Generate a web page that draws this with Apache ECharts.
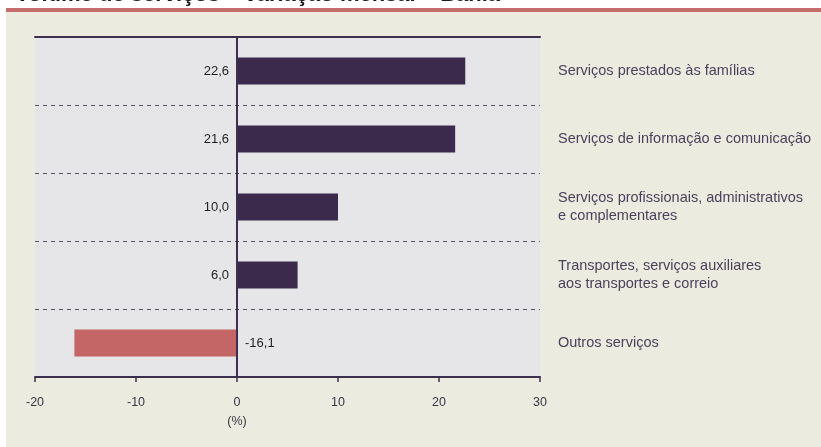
<!DOCTYPE html>
<html>
<head>
<meta charset="utf-8">
<script src="https://cdn.jsdelivr.net/npm/echarts@6/dist/echarts.min.js"></script>
<style>
  html, body { margin: 0; padding: 0; background: #fff; }
  #chart { width: 821px; height: 447px; }
</style>
</head>
<body>
<div id="chart"></div>
<script>
const categories = [
  'Serviços prestados às famílias',
  'Serviços de informação e comunicação',
  'Serviços profissionais, administrativos\ne complementares',
  'Transportes, serviços auxiliares\naos transportes e correio',
  'Outros serviços'
]
const values = [22.6, 21.6, 10.0, 6.0, -16.1]
const xTicks = [-20, -10, 0, 10, 20, 30]

const chart = echarts.init(document.getElementById('chart'))

const fmt = (v) => v.toFixed(1).replace('.', ',')
const font = '"Liberation Sans", Arial, sans-serif'

chart.setOption({
  backgroundColor: '#ffffff',
  animation: false,
  graphic: [
    // fundo creme
    { type: 'rect', left: 6, top: 12, shape: { width: 815, height: 435 }, style: { fill: '#ecebdf' }, z: -10 },
    // faixa vermelha
    { type: 'rect', left: 6, top: 8, shape: { width: 815, height: 4 }, style: { fill: '#c56d6c' }, z: -9 },
    // título cortado no topo
    {
      type: 'text',
      left: 15,
      top: -16,
      style: {
        text: 'Volume de serviços – variação mensal – Bahia',
        font: 'bold 22px ' + font,
        fill: '#1a1a1a'
      }
    }
  ],
  grid: {
    left: 35,
    right: 281,
    top: 37,
    bottom: 70,
    show: true,
    backgroundColor: '#e6e6e8',
    borderWidth: 0
  },
  xAxis: [
    {
      type: 'value',
      min: xTicks[0],
      max: xTicks[xTicks.length - 1],
      interval: 10,
      axisLine: { show: true, onZero: false, lineStyle: { color: '#3d2f4f', width: 2 } },
      axisTick: { show: true, length: 5, lineStyle: { color: '#3d2f4f', width: 1.5 } },
      splitLine: { show: false },
      axisLabel: {
        color: '#3b3346',
        fontSize: 12.5,
        fontFamily: font,
        margin: 16,
        lineHeight: 19,
        formatter: (v) => (v === 0 ? '0\n(%)' : String(v))
      }
    },
    {
      type: 'value',
      position: 'top',
      min: xTicks[0],
      max: xTicks[xTicks.length - 1],
      axisLine: { show: true, onZero: false, lineStyle: { color: '#3d2f4f', width: 2 } },
      axisTick: { show: false },
      axisLabel: { show: false },
      splitLine: { show: false }
    }
  ],
  yAxis: {
    type: 'category',
    data: categories,
    inverse: true,
    position: 'right',
    axisLine: { show: false },
    axisTick: { show: false },
    splitLine: { show: true, lineStyle: { color: '#5a4f68', type: [4, 4], width: 1 } },
    axisLabel: {
      color: '#4a3f5c',
      fontSize: 14.5,
      fontFamily: font,
      align: 'left',
      margin: 18,
      lineHeight: 18,
      padding: [3, 0, 0, 0]
    }
  },
  series: [
    {
      type: 'bar',
      barWidth: 27,
      data: values.map((v) => ({
        value: v,
        itemStyle: { color: v < 0 ? '#c56666' : '#3b2a4c' },
        label: {
          show: true,
          position: v < 0 ? 'right' : 'left',
          distance: 8,
          formatter: fmt(v),
          color: '#1e1e1e',
          fontSize: 13,
          fontFamily: font
        }
      })),
      markLine: {
        silent: true,
        symbol: 'none',
        label: { show: false },
        lineStyle: { color: '#3d2f4f', type: 'solid', width: 2 },
        data: [{ xAxis: 0 }]
      }
    }
  ]
})
</script>
</body>
</html>
